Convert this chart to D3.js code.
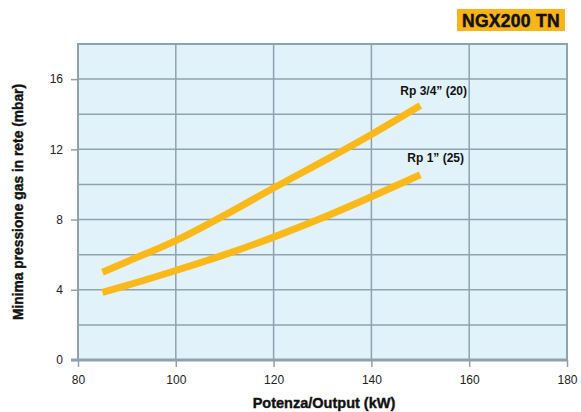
<!DOCTYPE html>
<html><head><meta charset="utf-8">
<script src="https://cdn.jsdelivr.net/npm/d3@7"></script>
<style>body{margin:0;background:#fff;font-family:"Liberation Sans",Arial,sans-serif}</style>
</head><body>
<svg id="c" width="581" height="412"></svg>
<script>
const title = "NGX200 TN";
const xTicks = [80,100,120,140,160,180];
const yTicks = [0,4,8,12,16];
const xGrid = [100,120,140,160];
const yGrid = [2,4,6,8,10,12,14,16];
const powerKW = [85,90,100,110,120,130,140,150];
const seriesNames = ["Rp 3/4\u201d (20)","Rp 1\u201d (25)"];
const rp34 = [5.0,5.6,6.8,8.25,9.8,11.3,12.85,14.5];
const rp1 = [3.85,4.25,5.1,6.0,7.0,8.1,9.3,10.55];

const svg = d3.select("#c");
const L=78,R=567,T=44,B=360;
const x = d3.scaleLinear().domain([80,180]).range([L,R]);
const y = d3.scaleLinear().domain([0,18]).range([B,T]);
const grid="#8fa2ad";

svg.append("rect").attr("x",L).attr("y",T).attr("width",R-L).attr("height",B-T).attr("fill","#e1f2fb");
svg.selectAll(".gx").data(xGrid).join("line").attr("x1",d=>x(d)).attr("x2",d=>x(d)).attr("y1",T).attr("y2",B).attr("stroke",grid).attr("stroke-width",1.5);
svg.selectAll(".gy").data(yGrid).join("line").attr("x1",L).attr("x2",R).attr("y1",d=>y(d)).attr("y2",d=>y(d)).attr("stroke",grid).attr("stroke-width",1.5);
svg.append("rect").attr("x",L).attr("y",T).attr("width",R-L).attr("height",B-T).attr("fill","none").attr("stroke",grid).attr("stroke-width",2);
svg.append("line").attr("x1",L-7).attr("x2",R).attr("y1",B).attr("y2",B).attr("stroke",grid).attr("stroke-width",3);

const xa = svg.append("g").attr("transform",`translate(0,${B})`).call(d3.axisBottom(x).tickValues(xTicks).tickSize(7).tickPadding(8));
const ya = svg.append("g").attr("transform",`translate(${L},0)`).call(d3.axisLeft(y).tickValues(yTicks).tickSize(7).tickPadding(8));
[xa,ya].forEach(a=>{a.select(".domain").remove();a.selectAll("line").attr("stroke",grid).attr("stroke-width",1.5);
 a.selectAll("text").attr("font-size",12).attr("fill","#222").attr("font-family","Liberation Sans, Arial, sans-serif");});

const line = d3.line().x((d,i)=>x(powerKW[i])).y(d=>y(d)).curve(d3.curveMonotoneX);
[rp34,rp1].forEach(s=>svg.append("path").attr("d",line(s)).attr("fill","none").attr("stroke","#fbb819").attr("stroke-width",7));

svg.append("text").attr("x",467).attr("y",95).attr("text-anchor","end").attr("font-size",12).attr("font-weight","bold").attr("fill","#111").text(seriesNames[0]);
svg.append("text").attr("x",464).attr("y",162).attr("text-anchor","end").attr("font-size",12).attr("font-weight","bold").attr("fill","#111").text(seriesNames[1]);

svg.append("rect").attr("x",457).attr("y",9).attr("width",108).attr("height",22).attr("fill","#f9b418");
svg.append("text").attr("x",511).attr("y",26.5).attr("text-anchor","middle").attr("font-size",17.5).attr("font-weight","bold").attr("letter-spacing","0.3").attr("stroke","#111").attr("stroke-width",0.5).attr("fill","#111").text(title);

svg.append("text").attr("x",324).attr("y",408).attr("text-anchor","middle").attr("font-size",14.5).attr("font-weight","bold").attr("stroke","#111").attr("stroke-width",0.4).attr("fill","#111").text("Potenza/Output (kW)");
svg.append("text").attr("transform","translate(23,202) rotate(-90)").attr("text-anchor","middle").attr("font-size",13.8).attr("font-weight","bold").attr("stroke","#111").attr("stroke-width",0.4).attr("fill","#111").text("Minima pressione gas in rete (mbar)");
</script>
</body></html>
